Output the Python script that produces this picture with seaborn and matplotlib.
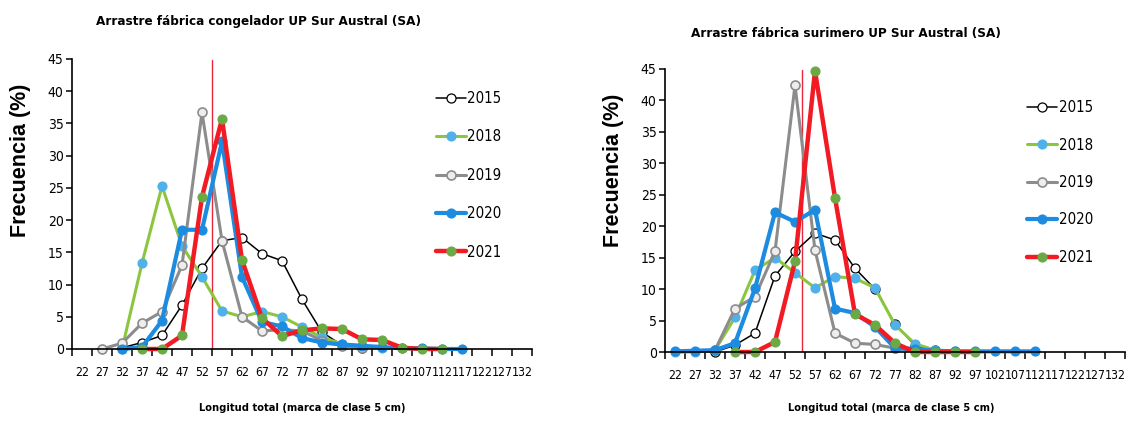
import numpy as np
import pandas as pd
import matplotlib
matplotlib.use("Agg")
import matplotlib.pyplot as plt
from matplotlib import font_manager as fm
import seaborn as sns

nan = np.nan

# Class marks of total length (cm), 5 cm classes
clases = [22, 27, 32, 37, 42, 47, 52, 57, 62, 67, 72, 77,
          82, 87, 92, 97, 102, 107, 112, 117, 122, 127, 132]
anios = ["2015", "2018", "2019", "2020", "2021"]

# Frequency (%) by class — factory trawlers, freezer fleet
cong_2015 = [nan, nan, 0.2, 1.0, 2.1, 6.8, 12.5, 16.8, 17.3, 14.8, 13.7, 7.7,
             2.6, 0.6, 0.2, nan, nan, nan, nan, nan, nan, nan, nan]
cong_2018 = [nan, nan, 0.0, 13.3, 25.3, 16.0, 11.2, 5.9, 5.0, 5.8, 5.0, 3.4,
             1.8, 0.8, 0.4, 0.2, 0.1, nan, nan, nan, nan, nan, nan]
cong_2019 = [nan, 0.0, 0.9, 4.0, 5.8, 13.0, 36.7, 16.8, 5.0, 2.8, 3.0, 2.8,
             1.3, 0.5, 0.2, nan, nan, nan, nan, nan, nan, nan, nan]
cong_2020 = [nan, nan, 0.0, 0.3, 4.4, 18.5, 18.5, 32.2, 11.2, 4.2, 3.5, 1.7,
             1.0, 0.7, 0.5, 0.3, 0.1, 0.1, 0.0, 0.0, nan, nan, nan]
cong_2021 = [nan, nan, nan, 0.0, 0.0, 2.1, 23.6, 35.7, 13.8, 4.8, 2.0, 2.9,
             3.2, 3.1, 1.5, 1.4, 0.2, 0.0, 0.0, nan, nan, nan, nan]

# Frequency (%) by class — factory trawlers, surimi fleet
suri_2015 = [nan, nan, 0.0, 1.1, 3.0, 12.1, 16.0, 18.9, 17.8, 13.3, 10.0, 4.5,
             1.0, 0.3, nan, nan, nan, nan, nan, nan, nan, nan, nan]
suri_2018 = [0.0, 0.0, 0.3, 5.5, 13.0, 15.0, 12.6, 10.2, 12.0, 11.7, 10.2, 4.3,
             1.3, 0.3, 0.1, nan, nan, nan, nan, nan, nan, nan, nan]
suri_2019 = [nan, nan, 0.3, 6.9, 8.8, 16.0, 42.4, 16.2, 3.0, 1.4, 1.2, 0.6,
             0.2, nan, nan, nan, nan, nan, nan, nan, nan, nan, nan]
suri_2020 = [0.1, 0.2, 0.3, 1.4, 10.1, 22.2, 20.7, 22.6, 6.9, 6.2, 4.0, 0.6,
             0.5, 0.2, 0.1, 0.1, 0.1, 0.1, 0.1, nan, nan, nan, nan]
suri_2021 = [nan, nan, nan, 0.0, 0.0, 1.6, 14.4, 44.7, 24.5, 6.0, 4.3, 1.4,
             0.0, 0.0, 0.0, 0.0, nan, nan, nan, nan, nan, nan, nan]

# Reference length marked on each panel (cm)
ref_cong = 54.5
ref_suri = 53.8

titulo_cong = "Arrastre fábrica congelador UP Sur Austral (SA)"
titulo_suri = "Arrastre fábrica surimero UP Sur Austral (SA)"
etiqueta_x = "Longitud total (marca de clase 5 cm)"
etiqueta_y = "Frecuencia (%)"

sns.set_style("ticks")

# Prefer a narrow face for the chart texts when one is installed
fuentes = {(f.name, f.stretch) for f in fm.fontManager.ttflist}
if any(n == "Liberation Sans Narrow" for n, _ in fuentes):
    NARROW, STRETCH, ESC = ["Liberation Sans Narrow", "DejaVu Sans"], "normal", 1.15
elif ("DejaVu Sans", "condensed") in fuentes or \
        any(n == "DejaVu Sans" and s in ("condensed", 300) for n, s in fuentes):
    NARROW, STRETCH, ESC = ["DejaVu Sans"], "condensed", 1.0
else:
    NARROW, STRETCH, ESC = ["Liberation Sans", "DejaVu Sans"], "normal", 0.95
WIDE = ["Liberation Sans", "DejaVu Sans"]
plt.rcParams["font.family"] = NARROW
plt.rcParams["font.stretch"] = STRETCH
plt.rcParams["text.color"] = "black"
plt.rcParams["xtick.color"] = "black"
plt.rcParams["ytick.color"] = "black"

estilos = {
    "2015": dict(color="black", linewidth=1.1, markerfacecolor="white",
                 markeredgecolor="black", markeredgewidth=0.9),
    "2018": dict(color="#8CC63F", linewidth=2.2, markerfacecolor="#4FB0EA",
                 markeredgecolor="#4FB0EA", markeredgewidth=0.8),
    "2019": dict(color="#8C8C8C", linewidth=2.2, markerfacecolor="#EDEDED",
                 markeredgecolor="#8C8C8C", markeredgewidth=1.2),
    "2020": dict(color="#1C8BE0", linewidth=3.0, markerfacecolor="#1C8BE0",
                 markeredgecolor="#1C8BE0", markeredgewidth=0.8),
    "2021": dict(color="#F21B24", linewidth=3.2, markerfacecolor="#6AAA45",
                 markeredgecolor="#6AAA45", markeredgewidth=0.8),
}


def tabla(series):
    filas = []
    for anio, valores in zip(anios, series):
        for c, v in zip(clases, valores):
            filas.append({"clase": c, "frecuencia": v, "anio": anio})
    return pd.DataFrame(filas).dropna()


def panel(ax, df, ref, leg_anchor, leg_spacing):
    for anio in anios:
        sub = df[df["anio"] == anio]
        sns.lineplot(data=sub, x="clase", y="frecuencia", ax=ax,
                     estimator=None, errorbar=None, marker="o",
                     markersize=6.5, clip_on=False, label=anio,
                     **estilos[anio])
    ax.plot([ref, ref], [0, 44.8], color="#E8283C", linewidth=1.0, zorder=1)

    ax.set_xlim(19.5, 134.5)
    ax.set_ylim(0, 45)
    ax.set_xticks(clases)
    ax.set_xticklabels([str(c) for c in clases], fontsize=8.8 * ESC,
                       fontstretch=STRETCH, color="black")
    ax.set_xticks(np.arange(19.5, 135, 5), minor=True)
    ax.tick_params(axis="x", which="major", length=0, pad=12)
    ax.tick_params(axis="x", which="minor", length=5, width=1.1,
                   direction="out", color="black")
    ax.set_yticks(np.arange(0, 46, 5))
    ax.set_yticklabels([str(v) for v in range(0, 46, 5)],
                       fontsize=10 * ESC, fontstretch=STRETCH, color="black")
    ax.tick_params(axis="y", length=4, width=1.1, pad=2, color="black")
    ax.set_xlabel("")
    ax.set_ylabel("")
    sns.despine(ax=ax)
    for s in ("left", "bottom"):
        ax.spines[s].set_color("black")
        ax.spines[s].set_linewidth(1.2)
    ax.set_facecolor("white")

    h, l = ax.get_legend_handles_labels()
    leg = ax.legend(h, l, loc="upper left", bbox_to_anchor=leg_anchor,
                    bbox_transform=ax.figure.transFigure, frameon=False,
                    fontsize=10.8 * ESC, handlelength=2.0, handletextpad=0.1,
                    labelspacing=leg_spacing, borderpad=0, borderaxespad=0,
                    numpoints=1)
    for t in leg.get_texts():
        t.set_fontstretch(STRETCH)
        t.set_color("black")


W, H = 1128, 424
fig = plt.figure(figsize=(W / 100, H / 100), dpi=100)
fig.patch.set_facecolor("white")

ax1 = fig.add_axes([72 / W, 1 - 349 / H, 460 / W, 290 / H])
ax2 = fig.add_axes([665 / W, 1 - 352 / H, 460 / W, 283 / H])

panel(ax1, tabla([cong_2015, cong_2018, cong_2019, cong_2020, cong_2021]),
      ref_cong, (436 / W, 1 - 91 / H), 1.56)
panel(ax2, tabla([suri_2015, suri_2018, suri_2019, suri_2020, suri_2021]),
      ref_suri, (1027 / W, 1 - 100 / H), 1.5)

fig.text(259 / W, 1 - 22 / H, titulo_cong, ha="center", va="center",
         fontsize=9.6 * ESC, fontweight="bold", family=NARROW,
         fontstretch=STRETCH)
fig.text(846 / W, 1 - 33 / H, titulo_suri, ha="center", va="center",
         fontsize=9.6 * ESC, fontweight="bold", family=NARROW,
         fontstretch=STRETCH)

for cx, cy in ((302, 408), (891, 408)):
    fig.text(cx / W, 1 - cy / H, etiqueta_x, ha="center", va="center",
             fontsize=7.9 * ESC, fontweight="bold", family=NARROW,
             fontstretch=STRETCH)

for cx, cy in ((21, 160), (613, 170)):
    fig.text(cx / W, 1 - cy / H, etiqueta_y, ha="center", va="center",
             rotation=90, fontsize=15.5, fontweight="bold", family=WIDE)

fig.savefig("out.png", dpi=100, facecolor="white")
